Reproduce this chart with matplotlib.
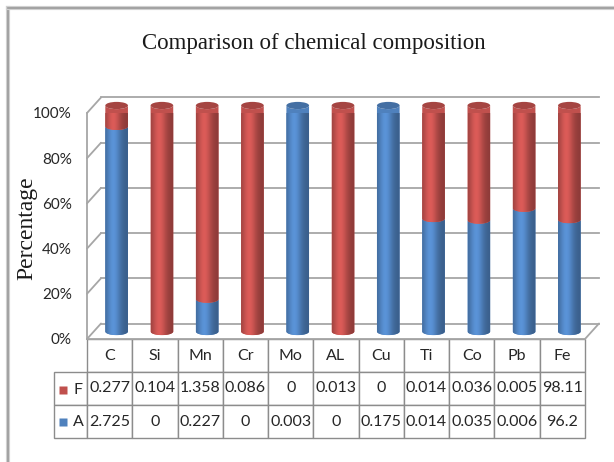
import numpy as np
import matplotlib
matplotlib.use("Agg")
import matplotlib.pyplot as plt
from matplotlib.path import Path
from matplotlib.patches import PathPatch, Ellipse, ConnectionPatch
from matplotlib.transforms import ScaledTranslation
from matplotlib.lines import Line2D

# ---- data -------------------------------------------------------------
elements = ['C', 'Si', 'Mn', 'Cr', 'Mo', 'AL', 'Cu', 'Ti', 'Co', 'Pb', 'Fe']
f_vals = [0.277, 0.104, 1.358, 0.086, 0, 0.013, 0, 0.014, 0.036, 0.005, 98.11]
a_vals = [2.725, 0, 0.227, 0, 0.003, 0, 0.175, 0.014, 0.035, 0.006, 96.2]
series_names = ['F', 'A']
y_ticks = [0, 20, 40, 60, 80, 100]
y_tick_labels = ['0%', '20%', '40%', '60%', '80%', '100%']

RED = np.array([192, 80, 77]) / 255
BLUE = np.array([79, 129, 189]) / 255
GRID = '#a6a6a6'
EDGE = '#8c8c8c'
SANS = ['Lato', 'DejaVu Sans']
SERIF = ['Liberation Serif', 'DejaVu Serif']
TXT = '#262626'

# ---- figure -----------------------------------------------------------
W, H = 614, 462
fig = plt.figure(figsize=(W / 100, H / 100), dpi=100)
fig.patch.set_facecolor('white')

# chart frame (left and top edges)
for xs, ys in [([7.5 / W, 7.5 / W], [0, 1 - 7.5 / H]), ([7.5 / W, 1], [1 - 7.5 / H, 1 - 7.5 / H])]:
    fig.add_artist(Line2D(xs, ys, color='#d0d0d0', lw=3.0, transform=fig.transFigure))
    fig.add_artist(Line2D(xs, ys, color='#9a9a9a', lw=1.2, transform=fig.transFigure))

ax = fig.add_axes([87 / W, 1 - 339 / H, 498 / W, 226 / H])
ax.set_xlim(-0.5, 10.5)
ax.set_ylim(0, 100)
ax.patch.set_visible(False)
for s in ax.spines.values():
    s.set_visible(False)
ax.set_xticks([])
ax.set_yticks(y_ticks)
ax.set_yticklabels(y_tick_labels, family=SANS, fontsize=11, color=TXT)
ax.tick_params(axis='y', length=0, pad=11)

# depth offsets: back wall and the middle plane where the cylinders stand
trans_back = ax.transData + ScaledTranslation(0.14, 0.155, fig.dpi_scale_trans)
trans_mid = ax.transData + ScaledTranslation(0.07, 0.075, fig.dpi_scale_trans)

n = len(elements)
x0, x1 = -0.5, n - 0.5

# back wall gridlines and left wall diagonals
for yv in y_ticks:
    ax.plot([x0, x1], [yv, yv], color=GRID, lw=1.3, transform=trans_back, clip_on=False, zorder=1)
    ax.add_artist(ConnectionPatch((x0, yv), (x0, yv), coordsA=ax.transData, coordsB=trans_back,
                                  color=GRID, lw=1.3, zorder=1, clip_on=False))
ax.plot([x0, x0], [0, 100], color=GRID, lw=1.3, clip_on=False, zorder=1)
# floor front edge and right diagonal
ax.plot([x0, x1], [0, 0], color=GRID, lw=1.3, clip_on=False, zorder=1)
ax.add_artist(ConnectionPatch((x1, 0), (x1, 0), coordsA=ax.transData, coordsB=trans_back,
                              color=GRID, lw=1.3, zorder=1, clip_on=False))

# ---- cylinders --------------------------------------------------------
total = np.array(a_vals) + np.array(f_vals)
a_pct = np.array(a_vals) / total * 100
f_pct = np.array(f_vals) / total * 100

hw = 0.25          # half width of a cylinder (category units)
eh = 1.6           # half height of the end ellipses (percent units)


def shade_row(base, npts=64):
    t = np.linspace(0, 1, npts)
    s = 0.72 + 0.40 * np.exp(-((t - 0.36) / 0.32) ** 2)
    rgb = np.clip(base[None, :] * s[:, None] * 1.02, 0, 1)
    return rgb[None, :, :]


def segment(xc, y0, y1, base, z):
    th = np.linspace(np.pi, 2 * np.pi, 40)
    top = np.column_stack([xc + hw * np.cos(th), y1 + eh * np.sin(th)])
    bot = np.column_stack([xc + hw * np.cos(th[::-1]), y0 + eh * np.sin(th[::-1])])
    verts = np.vstack([[xc - hw, y0], top, bot, [xc - hw, y0]])
    codes = [Path.MOVETO] + [Path.LINETO] * (len(verts) - 2) + [Path.CLOSEPOLY]
    patch = PathPatch(Path(verts, codes), facecolor=base, edgecolor='none',
                      transform=trans_mid, zorder=z, clip_on=False)
    ax.add_patch(patch)
    im = ax.imshow(shade_row(base), extent=[xc - hw, xc + hw, y0 - eh, y1 + eh],
                   aspect='auto', interpolation='bilinear', transform=trans_mid, zorder=z)
    im.set_clip_path(patch)


for i in range(n):
    z = 3 + i * 0.01
    stack = [(a_pct[i], BLUE), (f_pct[i], RED)]
    y = 0
    last = None
    for pct, col in stack:
        if pct <= 0:
            continue
        segment(i, y, y + pct, col, z)
        y += pct
        last = col
    cap = Ellipse((i, 100), 2 * hw, 2 * eh, facecolor=np.clip(last * 0.86, 0, 1),
                  edgecolor='none', transform=trans_mid, zorder=z + 0.005, clip_on=False)
    ax.add_patch(cap)

ax.set_xlim(-0.5, 10.5)
ax.set_ylim(0, 100)

# ---- data table -------------------------------------------------------
fmt = lambda v: f"{v:g}"
cell_text = [[''] + elements,
             [''] + [fmt(v) for v in f_vals],
             [''] + [fmt(v) for v in a_vals]]
lab_w = 33 / 498
col_w = [lab_w] + [1 / n] * n
tab = ax.table(cellText=cell_text, colWidths=col_w, cellLoc='center',
               bbox=[-lab_w, -99 / 226, 1 + lab_w, 99 / 226])
tab.auto_set_font_size(False)
for (r, c), cell in tab.get_celld().items():
    cell.set_edgecolor(EDGE)
    cell.set_linewidth(1.0)
    cell.get_text().set_fontsize(11.5)
    cell.get_text().set_family(SANS)
    cell.get_text().set_color(TXT)
    if r == 0 and c == 0:
        cell.visible_edges = 'open'

# legend keys in the row label cells
row_px = [(373 + 406) / 2, (406 + 438) / 2]
for name, col, yp in zip(series_names, [RED, BLUE], row_px):
    ya = (339 - yp) / 226
    ax.plot([-24 / 498], [ya], marker='s', ms=6, color=col, mec='none',
            transform=ax.transAxes, clip_on=False)
    ax.text(-9 / 498, ya, name, transform=ax.transAxes, ha='center', va='center',
            family=SANS, fontsize=11.5, color=TXT)

# ---- titles -----------------------------------------------------------
fig.text(314 / W, 1 - 44 / H, 'Comparison of chemical composition', ha='center', va='center',
         family=SERIF, fontsize=16.5, color='#1a1a1a')
fig.text(27 / W, 1 - 228 / H, 'Percentage', ha='center', va='center', rotation=90,
         family=SERIF, fontsize=17, color='#1a1a1a')

fig.savefig('out.png', dpi=100)
